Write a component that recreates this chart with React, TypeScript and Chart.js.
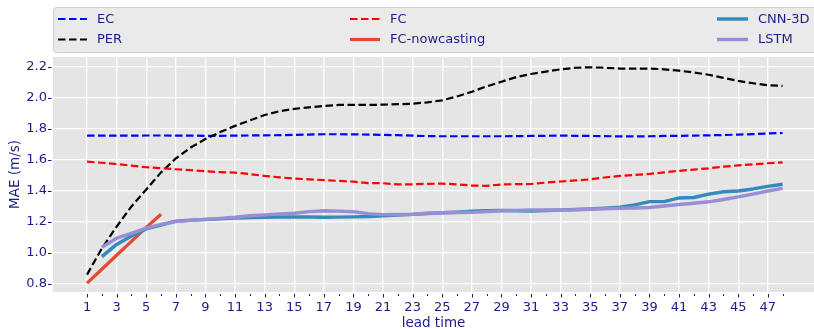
import React, { useEffect, useRef } from 'react';
import { Chart, registerables } from 'chart.js';

Chart.register(...registerables);

const leadTime = [1, 2, 3, 4, 5, 6, 7, 8, 9, 10, 11, 12, 13, 14, 15, 16, 17, 18, 19, 20, 21, 22, 23, 24, 25, 26, 27, 28, 29, 30, 31, 32, 33, 34, 35, 36, 37, 38, 39, 40, 41, 42, 43, 44, 45, 46, 47, 48];

const ecMAE = [1.757, 1.757, 1.757, 1.757, 1.758, 1.758, 1.757, 1.757, 1.756, 1.756, 1.757, 1.758, 1.759, 1.76, 1.762, 1.764, 1.766, 1.766, 1.765, 1.764, 1.762, 1.76, 1.757, 1.754, 1.753, 1.753, 1.753, 1.753, 1.753, 1.754, 1.755, 1.756, 1.757, 1.756, 1.755, 1.754, 1.752, 1.752, 1.753, 1.755, 1.756, 1.757, 1.759, 1.761, 1.764, 1.767, 1.771, 1.774];

const perMAE = [0.86, 1.03, 1.17, 1.3, 1.41, 1.52, 1.61, 1.68, 1.735, 1.78, 1.82, 1.855, 1.89, 1.915, 1.93, 1.94, 1.948, 1.955, 1.955, 1.955, 1.957, 1.96, 1.963, 1.972, 1.985, 2.01, 2.04, 2.075, 2.105, 2.135, 2.155, 2.17, 2.185, 2.195, 2.198, 2.195, 2.19, 2.19, 2.19, 2.185, 2.176, 2.165, 2.15, 2.13, 2.11, 2.095, 2.082, 2.078];

const fcMAE = [1.589, 1.582, 1.574, 1.563, 1.553, 1.547, 1.54, 1.534, 1.527, 1.522, 1.518, 1.509, 1.497, 1.488, 1.48, 1.475, 1.47, 1.465, 1.46, 1.451, 1.45, 1.442, 1.443, 1.446, 1.447, 1.443, 1.435, 1.433, 1.442, 1.444, 1.445, 1.454, 1.461, 1.468, 1.475, 1.487, 1.497, 1.504, 1.51, 1.52, 1.53, 1.538, 1.546, 1.557, 1.565, 1.572, 1.579, 1.585];

const fcNowcastingMAE = [0.805, 0.895, 0.985, 1.075, 1.165, 1.25];

const cnn3dMAE = [null, 0.976, 1.055, 1.11, 1.155, 1.18, 1.205, 1.212, 1.216, 1.22, 1.225, 1.228, 1.23, 1.232, 1.232, 1.232, 1.23, 1.231, 1.233, 1.235, 1.239, 1.244, 1.249, 1.255, 1.259, 1.263, 1.269, 1.273, 1.274, 1.272, 1.271, 1.274, 1.277, 1.28, 1.284, 1.289, 1.295, 1.31, 1.331, 1.331, 1.355, 1.358, 1.38, 1.395, 1.4, 1.413, 1.43, 1.443];

const lstmMAE = [null, 1.037, 1.095, 1.127, 1.16, 1.185, 1.202, 1.21, 1.217, 1.223, 1.23, 1.24, 1.245, 1.252, 1.256, 1.267, 1.272, 1.27, 1.266, 1.254, 1.247, 1.248, 1.25, 1.256, 1.259, 1.261, 1.262, 1.267, 1.272, 1.275, 1.277, 1.277, 1.277, 1.279, 1.282, 1.285, 1.288, 1.29, 1.293, 1.303, 1.313, 1.321, 1.33, 1.345, 1.362, 1.38, 1.4, 1.417];

const xMajorTicks = [1, 3, 5, 7, 9, 11, 13, 15, 17, 19, 21, 23, 25, 27, 29, 31, 33, 35, 37, 39, 41, 43, 45, 47];
const xMinorTicks = [2, 4, 6, 8, 10, 12, 14, 16, 18, 20, 22, 24, 26, 28, 30, 32, 34, 36, 38, 40, 42, 44, 46, 48];
const yTicks = [0.8, 1.0, 1.2, 1.4, 1.6, 1.8, 2.0, 2.2];

const TEXT = '#1c1c8a';
const FONT = 'DejaVu Sans';

const toPoints = (vals: (number | null)[]) =>
  vals
    .map((v, i) => ({ x: leadTime[i], y: v }))
    .filter((p) => p.y !== null);

const bgPlugin = {
  id: 'bg',
  beforeDraw(chart: any) {
    const { ctx, chartArea } = chart;
    ctx.save();
    ctx.fillStyle = '#ffffff';
    ctx.fillRect(0, 0, chart.width, chart.height);
    ctx.fillStyle = '#E5E5E5';
    ctx.fillRect(chartArea.left, chartArea.top, chartArea.right - chartArea.left, chartArea.bottom - chartArea.top);
    ctx.restore();
  },
};

const tickPlugin = {
  id: 'ticks',
  afterDraw(chart: any) {
    const { ctx, chartArea, scales } = chart;
    ctx.save();
    ctx.strokeStyle = TEXT;
    ctx.lineWidth = 1;
    ctx.beginPath();
    xMajorTicks.forEach((v) => {
      const px = Math.round(scales.x.getPixelForValue(v)) + 0.5;
      ctx.moveTo(px, chartArea.bottom + 2);
      ctx.lineTo(px, chartArea.bottom + 5.5);
    });
    xMinorTicks.forEach((v) => {
      const px = Math.round(scales.x.getPixelForValue(v)) + 0.5;
      ctx.moveTo(px, chartArea.bottom + 2);
      ctx.lineTo(px, chartArea.bottom + 4);
    });
    yTicks.forEach((v) => {
      const py = Math.round(scales.y.getPixelForValue(v)) + 0.5;
      ctx.moveTo(chartArea.left - 5, py);
      ctx.lineTo(chartArea.left - 1.5, py);
    });
    ctx.stroke();
    ctx.restore();
  },
};

const legendPlugin = {
  id: 'mplLegend',
  afterDraw(chart: any) {
    const { ctx, chartArea } = chart;
    const left = chartArea.left + 0.5;
    const top = 7.5;
    const w = chart.width - left + 20;
    const h = 45;
    const r = 3;
    ctx.save();
    ctx.beginPath();
    ctx.moveTo(left + r, top);
    ctx.lineTo(left + w - r, top);
    ctx.arcTo(left + w, top, left + w, top + r, r);
    ctx.lineTo(left + w, top + h - r);
    ctx.arcTo(left + w, top + h, left + w - r, top + h, r);
    ctx.lineTo(left + r, top + h);
    ctx.arcTo(left, top + h, left, top + h - r, r);
    ctx.lineTo(left, top + r);
    ctx.arcTo(left, top, left + r, top, r);
    ctx.closePath();
    ctx.fillStyle = '#EAEAEA';
    ctx.fill();
    ctx.strokeStyle = '#D0D0D0';
    ctx.lineWidth = 1;
    ctx.stroke();

    const cols = [
      { x0: 58, x1: 87, tx: 97 },
      { x0: 350, x1: 380, tx: 390 },
      { x0: 717, x1: 748, tx: 758 },
    ];
    const rows = [19, 39.5];
    const layout = [
      ['EC', 0, 0],
      ['PER', 0, 1],
      ['FC', 1, 0],
      ['FC-nowcasting', 1, 1],
      ['CNN-3D', 2, 0],
      ['LSTM', 2, 1],
    ];
    ctx.font = `13px "${FONT}"`;
    ctx.textBaseline = 'middle';
    ctx.textAlign = 'left';
    layout.forEach(([label, c, rr]) => {
      const ds = chart.data.datasets.find((d: any) => d.label === label);
      if (!ds) return;
      const col = cols[c as number];
      const y = rows[rr as number];
      ctx.beginPath();
      ctx.strokeStyle = ds.borderColor;
      ctx.lineWidth = ds.borderWidth;
      ctx.setLineDash(ds.borderDash || []);
      ctx.lineCap = 'butt';
      ctx.moveTo(col.x0, y);
      ctx.lineTo(col.x1, y);
      ctx.stroke();
      ctx.setLineDash([]);
      ctx.fillStyle = TEXT;
      ctx.fillText(label as string, col.tx, y + 0.5);
    });
    ctx.restore();
  },
};

export default function App() {
  const ref = useRef<HTMLCanvasElement>(null);

  useEffect(() => {
    if (!ref.current) return;
    const dash = [7.5, 3.5];
    const chart = new Chart(ref.current, {
      type: 'line',
      data: {
        datasets: [
          { label: 'EC', data: toPoints(ecMAE), borderColor: '#0000FF', borderWidth: 2.2, borderDash: dash, order: 6 },
          { label: 'PER', data: toPoints(perMAE), borderColor: '#000000', borderWidth: 2.2, borderDash: dash, order: 5 },
          { label: 'FC', data: toPoints(fcMAE), borderColor: '#FF0000', borderWidth: 2.2, borderDash: dash, order: 4 },
          { label: 'FC-nowcasting', data: toPoints(fcNowcastingMAE), borderColor: '#E24A33', borderWidth: 3.2, order: 3 },
          { label: 'CNN-3D', data: toPoints(cnn3dMAE), borderColor: '#348ABD', borderWidth: 3.4, order: 2 },
          { label: 'LSTM', data: toPoints(lstmMAE), borderColor: '#988ED5', borderWidth: 3.4, order: 1 },
        ] as any,
      },
      options: {
        responsive: false,
        animation: false,
        devicePixelRatio: 1,
        layout: { padding: { top: 57, left: 0, right: 0, bottom: 0 } },
        elements: {
          point: { radius: 0 },
          line: { tension: 0, borderCapStyle: 'butt', borderJoinStyle: 'round', fill: false },
        },
        plugins: { legend: { display: false }, tooltip: { enabled: false } },
        scales: {
          x: {
            type: 'linear',
            min: -1.3,
            max: 50.12,
            afterBuildTicks: (s: any) => {
              s.ticks = xMajorTicks.map((v) => ({ value: v }));
            },
            afterFit: (s: any) => {
              s.height = 37;
            },
            grid: { color: '#FFFFFF', lineWidth: 1.3, drawTicks: false },
            border: { display: false },
            ticks: {
              autoSkip: false,
              maxRotation: 0,
              padding: 8,
              color: TEXT,
              font: { family: FONT, size: 13 },
              callback: (v: any) => String(v),
            },
            title: {
              display: true,
              text: 'lead time',
              color: TEXT,
              font: { family: FONT, size: 13.5, lineHeight: 0.8 },
              padding: { top: 0, bottom: 0 },
            },
          },
          y: {
            type: 'linear',
            min: 0.748,
            max: 2.2645,
            afterBuildTicks: (s: any) => {
              s.ticks = yTicks.map((v) => ({ value: v }));
            },
            afterFit: (s: any) => {
              s.width = 53;
            },
            grid: { color: '#FFFFFF', lineWidth: 1.3, drawTicks: false },
            border: { display: false },
            ticks: {
              padding: 6,
              color: TEXT,
              font: { family: FONT, size: 13 },
              callback: (v: any) => Number(v).toFixed(1),
            },
            title: {
              display: true,
              text: 'MAE (m/s)',
              color: TEXT,
              font: { family: FONT, size: 13.5 },
              padding: { top: 7, bottom: 0 },
            },
          },
        },
      } as any,
      plugins: [bgPlugin, tickPlugin, legendPlugin],
    });
    return () => chart.destroy();
  }, []);

  return (
    <div style={{ position: 'absolute', left: 0, top: 0, width: 814, height: 329, overflow: 'hidden', background: '#fff' }}>
      <canvas ref={ref} width={814} height={329} style={{ display: 'block', width: 814, height: 329 }} />
    </div>
  );
}
